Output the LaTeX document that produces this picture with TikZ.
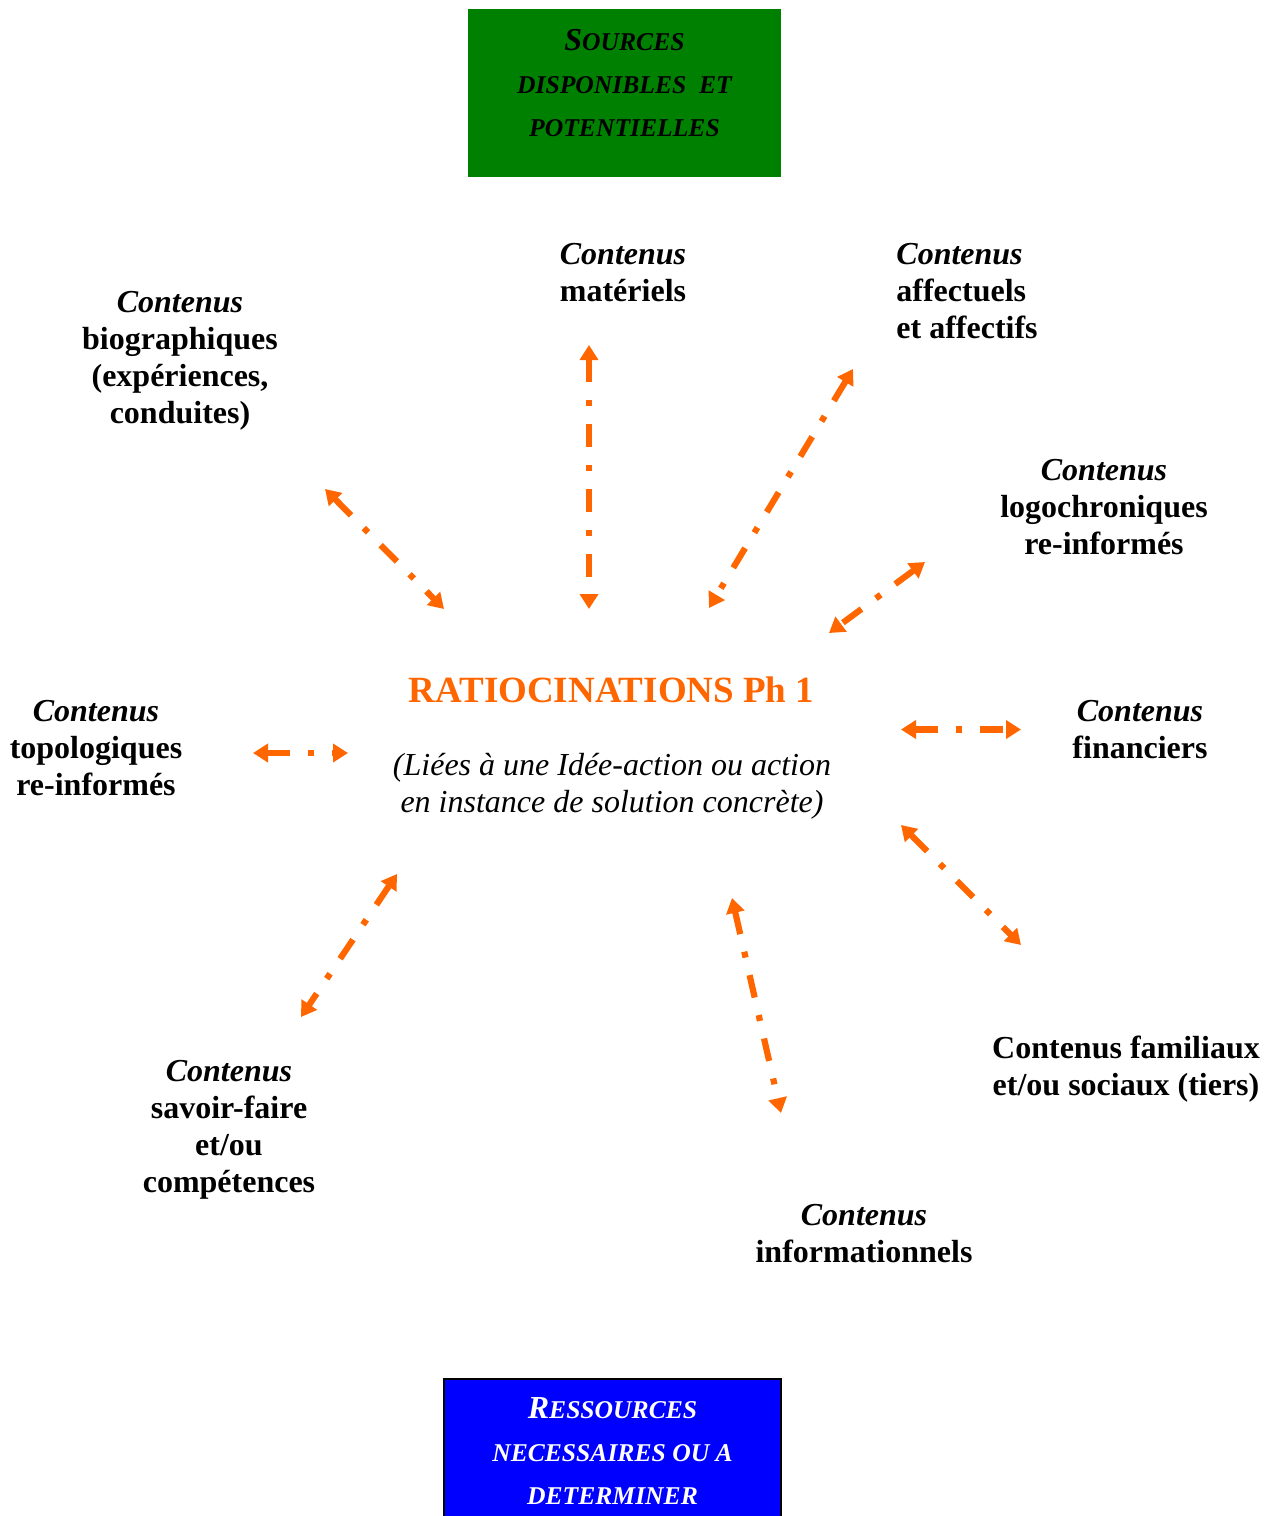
\documentclass[tikz,border=0pt]{standalone}
\usepackage{fontspec}
\setmainfont{Liberation Serif}
\usetikzlibrary{arrows.meta}
\definecolor{ratio}{HTML}{FF6600}
\definecolor{srcgreen}{HTML}{008000}
\definecolor{resblue}{HTML}{0000FF}
% fake small capitals for the two boxes
\newcommand\capbig[1]{{\fontsize{16}{21.5}\selectfont #1}}
\newcommand\capsmall[1]{{\fontsize{12.8}{21.5}\selectfont #1}}
\tikzset{
  label/.style={font=\bfseries\fontsize{16}{18.5}\selectfont, align=center, inner sep=0pt, anchor=north},
  boxtext/.style={font=\bfseries\itshape\fontsize{12.8}{21.5}\selectfont, align=center, inner sep=0pt},
  link/.style={draw=ratio, line width=3.1pt, line cap=butt,
    dash pattern=on 11.5pt off 9pt on 3pt off 9pt,
    {Triangle[width=9pt,length=7.5pt]}-{Triangle[width=9pt,length=7.5pt]}},
}
\begin{document}
\begin{tikzpicture}[x=0.5pt,y=-0.5pt]
\clip (0,0) rectangle (1273,1516);
\fill[white] (0,0) rectangle (1273,1516);

% top and bottom boxes
\node[fill=srcgreen, minimum width=156.5pt, minimum height=84pt, inner sep=0pt] (sources) at (624.5,93) {};
\node[boxtext, text=black] (sourcestext) at (624.5,83)
  {\capbig{S}\capsmall{OURCES}\\ \capsmall{DISPONIBLES\ \ ET}\\ \capsmall{POTENTIELLES}};
\node[fill=resblue, draw=black, line width=1pt, minimum width=168.5pt, minimum height=80pt, inner sep=0pt, anchor=north] (ressources) at (612.5,1377.5) {};
\node[boxtext, text=white] (ressourcestext) at (612.5,1451)
  {\capbig{R}\capsmall{ESSOURCES}\\ \capsmall{NECESSAIRES OU A}\\ \capsmall{DETERMINER}};

% central idea
\node[font=\bfseries\fontsize{18.5}{22}\selectfont, text=ratio, inner sep=0pt] (ratiocinations) at (611.5,690) {RATIOCINATIONS Ph 1};
\node[font=\itshape\fontsize{16}{18.5}\selectfont, align=center, inner sep=0pt] (lieesa) at (612,786)
  {(Liées à une Idée-action ou action\\en instance de solution concrète)};

% surrounding contents
\node[label] (materiels) at (623,243) {\textit{Contenus}\\matériels};
\node[label, align=left, anchor=north west] (affectuels) at (896,243) {\textit{Contenus}\\affectuels\\et affectifs};
\node[label] (biographiques) at (180,291) {\textit{Contenus}\\biographiques\\(expériences,\\conduites)};
\node[label] (logochroniques) at (1104,459) {\textit{Contenus}\\logochroniques\\re-informés};
\node[label] (topologiques) at (96,700) {\textit{Contenus}\\topologiques\\re-informés};
\node[label] (financiers) at (1140,700) {\textit{Contenus}\\financiers};
\node[label] (familiaux) at (1126,1036) {Contenus familiaux\\et/ou sociaux (tiers)};
\node[label] (savoirfaire) at (229,1060) {\textit{Contenus}\\savoir-faire\\et/ou\\compétences};
\node[label] (informationnels) at (864,1204) {\textit{Contenus}\\informationnels};

% arrow ends
\coordinate (mat-a) at (589,345);   \coordinate (mat-b) at (589,609);
\coordinate (aff-a) at (853,369);   \coordinate (aff-b) at (709,608);
\coordinate (bio-a) at (325,489);   \coordinate (bio-b) at (444,609);
\coordinate (log-a) at (925,562);   \coordinate (log-b) at (829,633);
\coordinate (top-a) at (253,753);   \coordinate (top-b) at (348,753);
\coordinate (fin-a) at (901,729.5); \coordinate (fin-b) at (1021,729.5);
\coordinate (fam-a) at (901,825);   \coordinate (fam-b) at (1021,945);
\coordinate (inf-a) at (732,898);   \coordinate (inf-b) at (781,1113);
\coordinate (sav-a) at (397,874);   \coordinate (sav-b) at (301,1017);

\draw[link] (mat-a) -- (mat-b);
\draw[link] (aff-a) -- (aff-b);
\draw[link] (bio-a) -- (bio-b);
\draw[link] (log-a) -- (log-b);
\draw[link] (top-a) -- (top-b);
\draw[link] (fin-a) -- (fin-b);
\draw[link] (fam-a) -- (fam-b);
\draw[link] (inf-a) -- (inf-b);
\draw[link] (sav-a) -- (sav-b);
\end{tikzpicture}
\end{document}
